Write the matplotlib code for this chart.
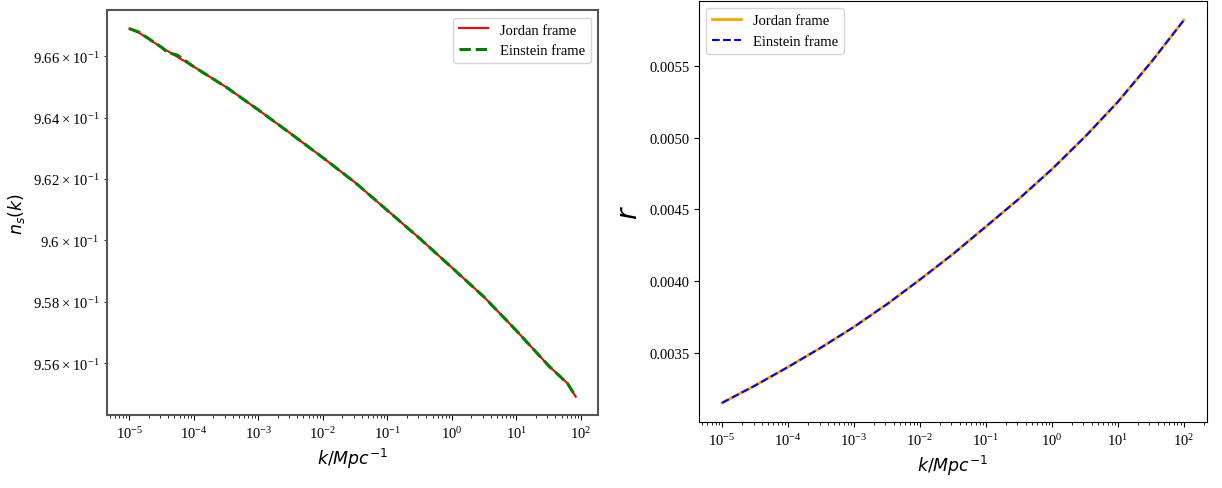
import numpy as np
import matplotlib
matplotlib.use("Agg")
import matplotlib.pyplot as plt

plt.rcParams['font.family'] = 'Liberation Serif'
plt.rcParams['font.size'] = 10.5

# spectral index n_s(k), both frames
k_ns = [1e-5, 1.4e-5, 3.2e-5, 1e-4, 3.2e-4, 1e-3, 3.2e-3, 1e-2, 3.2e-2, 1e-1,
        3.2e-1, 1.0, 3.2, 10.0, 32.0, 62.0, 83.0]
ns_jordan = [0.96691, 0.96678, 0.96629, 0.96566, 0.96499, 0.96425, 0.96347, 0.96269,
             0.96187, 0.96097, 0.96005, 0.95911, 0.95814, 0.95706, 0.95591, 0.95535, 0.95492]
k_ns_e = [1e-5, 1.4e-5, 3.2e-5, 3.9e-5, 5.6e-5, 1e-4, 3.2e-4, 1e-3, 3.2e-3, 1e-2,
          3.2e-2, 1e-1, 3.2e-1, 1.0, 3.2, 10.0, 32.0, 62.0, 83.0]
ns_einstein = [0.96691, 0.96680, 0.96629, 0.96613, 0.96604, 0.96566, 0.96499,
               0.96425, 0.96347, 0.96269, 0.96187, 0.96097, 0.96005, 0.95911, 0.95814,
               0.95706, 0.95591, 0.95535, 0.95492]

# tensor-to-scalar ratio r(k)
k_r = [1e-5, 3.2e-5, 1e-4, 3.2e-4, 1e-3, 3.2e-3, 1e-2, 3.2e-2, 1e-1, 3.2e-1,
       1.0, 3.2, 10.0, 32.0, 100.0]
r_jordan = [0.00315, 0.003272, 0.00340, 0.003537, 0.00368, 0.00384, 0.00401, 0.00419,
            0.00438, 0.004575, 0.00478, 0.005008, 0.00525, 0.005527, 0.00582]
r_einstein = list(r_jordan)

fig = plt.figure(figsize=(12.22, 4.89), dpi=100)

ax1 = fig.add_axes([0.0876, 0.149, 0.4018, 0.828])
ax1.plot(k_ns, ns_jordan, color='red', lw=1.5, label='Jordan frame')
ax1.plot(k_ns_e, ns_einstein, color='green', ls='--', lw=2.2, label='Einstein frame')
ax1.set_xscale('log')
ax1.set_yscale('log')
ax1.set_xlabel(r'$k/Mpc^{-1}$', fontsize=12.5)
ax1.set_ylabel(r'$n_s(k)$', fontsize=12.5)
ax1.legend(loc='upper right')
for s in ax1.spines.values():
    s.set_color('#555555')
    s.set_linewidth(1.5)

ax2 = fig.add_axes([0.572, 0.135, 0.4157, 0.861])
ax2.plot(k_r, r_jordan, color='orange', lw=2, label='Jordan frame')
ax2.plot(k_r, r_einstein, color='blue', ls='--', lw=1.5, label='Einstein frame')
ax2.set_xscale('log')
ax2.set_xlabel(r'$k/Mpc^{-1}$', fontsize=12.5)
ax2.set_ylabel(r'$r$', fontsize=20)
ax2.legend(loc='upper left')

fig.savefig('out.png', dpi=100)
